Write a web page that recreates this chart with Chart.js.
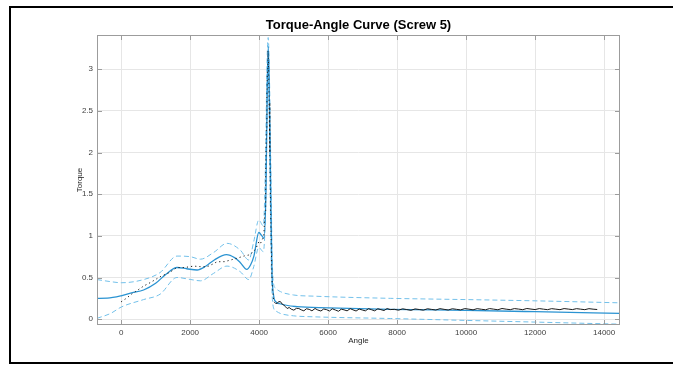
<!DOCTYPE html>
<html>
<head>
<meta charset="utf-8">
<title>Torque-Angle Curve (Screw 5)</title>
<script src="https://cdn.jsdelivr.net/npm/chart.js@4.4.1/dist/chart.umd.min.js"></script>
<style>
  html, body { margin: 0; padding: 0; background: #fff; overflow: hidden; }
  #wrap { position: relative; width: 673px; height: 365px; }
  #myChart { position: absolute; left: 0; top: 0; }
  #frame { position: absolute; left: 9px; top: 6px; width: 700px; height: 354px; border: 2px solid #000; pointer-events: none; }
</style>
</head>
<body>
<div id="wrap">
  <canvas id="myChart" width="673" height="365"></canvas>
  <div id="frame"></div>
</div>
<script>
// measured torque (black)
var rawAngle = [0, 150, 300, 450, 650, 850, 1130, 1400, 1620, 1850, 2100, 2300, 2490, 2650, 2780, 3000, 3165, 3350, 3552, 3700, 3843, 3920, 3990, 4040, 4084, 4133,
  4170, 4190, 4210, 4225, 4240, 4255, 4270, 4290, 4310, 4330, 4350, 4377, 4423,
  4470, 4520, 4570, 4618, 4670, 4715, 4760, 4812, 4870, 4930, 5006, 5080, 5150, 5220, 5296, 5370, 5450, 5530, 5620, 5700, 5790, 5870, 5950,
  6040, 6120, 6210, 6300, 6380, 6460, 6550, 6640, 6720, 6810, 6900, 6990, 7080, 7170, 7260, 7350, 7440, 7530, 7620, 7710, 7800,
  7920, 8040, 8160, 8280, 8400, 8520, 8640, 8760, 8880, 9000, 9120, 9240, 9360, 9480, 9600, 9720, 9840, 9960,
  10080, 10200, 10320, 10440, 10560, 10680, 10800, 10920, 11040, 11160, 11280, 11400, 11520, 11640, 11760, 11880,
  12000, 12120, 12240, 12360, 12480, 12600, 12720, 12840, 12960, 13080, 13200, 13320, 13440, 13560, 13680, 13800];
var rawTorque = [0.208, 0.25, 0.3, 0.34, 0.397, 0.44, 0.509, 0.56, 0.62, 0.62, 0.637, 0.63, 0.629, 0.66, 0.689, 0.69, 0.709, 0.73, 0.757, 0.77, 0.81, 0.86, 0.93, 0.91, 0.95, 0.99,
  1.3, 1.75, 2.3, 2.7, 3.0, 3.22, 3.1, 2.6, 2.0, 1.4, 0.9, 0.43, 0.21,
  0.19, 0.19, 0.21, 0.21, 0.18, 0.17, 0.15, 0.128, 0.14, 0.12, 0.108, 0.13, 0.128, 0.112, 0.1, 0.125, 0.118, 0.1, 0.128, 0.11, 0.098, 0.122, 0.115,
  0.098, 0.125, 0.11, 0.095, 0.12, 0.112, 0.1, 0.126, 0.112, 0.098, 0.122, 0.11, 0.1, 0.126, 0.113, 0.1, 0.125, 0.114, 0.104, 0.127, 0.115,
  0.118, 0.108, 0.124, 0.115, 0.106, 0.123, 0.116, 0.108, 0.125, 0.117, 0.11, 0.126, 0.118, 0.11, 0.125, 0.118, 0.111, 0.127,
  0.12, 0.112, 0.126, 0.119, 0.113, 0.127, 0.12, 0.113, 0.128, 0.12, 0.114, 0.127, 0.121, 0.114, 0.128, 0.121,
  0.115, 0.127, 0.12, 0.114, 0.126, 0.12, 0.114, 0.127, 0.121, 0.115, 0.126, 0.12, 0.114, 0.126, 0.12, 0.116];

// fitted curve (solid blue)
var fitAngle = [-700, -400, 0, 300, 650, 1000, 1300, 1620, 1900, 2200, 2450, 2700, 3050, 3300, 3450, 3640, 3750, 3850, 3990, 4080, 4140,
  4200, 4240, 4265, 4290, 4330, 4370, 4420, 4480, 4600, 5100, 6000, 7800, 10000, 12000, 14460];
var fitTorque = [0.25, 0.252, 0.28, 0.315, 0.35, 0.43, 0.54, 0.62, 0.605, 0.59, 0.635, 0.71, 0.775, 0.735, 0.68, 0.598, 0.65, 0.76, 1.04, 1.0, 0.97,
  1.6, 2.9, 3.27, 2.8, 1.7, 0.6, 0.28, 0.21, 0.185, 0.15, 0.136, 0.118, 0.105, 0.09, 0.07];

// upper bound (dashed)
var upAngle = [-700, -300, 0, 650, 1130, 1620, 2000, 2300, 2680, 3070, 3450, 3700, 3843, 3990, 4120,
  4180, 4230, 4262, 4295, 4340, 4375, 4410, 4480, 4620, 5000, 5600, 7800, 10000, 12000, 14460];
var upTorque = [0.475, 0.45, 0.437, 0.475, 0.56, 0.757, 0.75, 0.72, 0.8, 0.91, 0.83, 0.71, 0.93, 1.19, 1.12,
  1.8, 3.1, 3.38, 3.0, 1.8, 0.8, 0.45, 0.37, 0.33, 0.29, 0.276, 0.25, 0.235, 0.22, 0.196];

// lower bound (dashed)
var loAngle = [-700, -300, 0, 650, 1130, 1620, 2000, 2300, 2680, 3070, 3450, 3700, 3843, 3990, 4120,
  4190, 4240, 4268, 4290, 4320, 4360, 4400, 4480, 4620, 5000, 5600, 7800, 10000, 12000, 14460];
var loTorque = [0.01, 0.07, 0.145, 0.235, 0.3, 0.5, 0.477, 0.46, 0.55, 0.637, 0.57, 0.475, 0.63, 0.86, 0.81,
  1.4, 2.8, 3.15, 2.6, 1.5, 0.5, 0.17, 0.1, 0.068, 0.04, 0.028, 0.008, -0.015, -0.035, -0.06];

var xTicks = [0, 2000, 4000, 6000, 8000, 10000, 12000, 14000];
var yTicks = [0, 0.5, 1, 1.5, 2, 2.5, 3];

function pts(xs, ys) {
  return xs.map(function (x, i) { return { x: x, y: ys[i] }; });
}

var font = '"Liberation Sans", Arial, Helvetica, sans-serif';

// box, inner ticks, title and axis labels
var matlabFrame = {
  id: 'matlabFrame',
  afterDraw: function (chart) {
    var c = chart.ctx, a = chart.chartArea;
    var sx = chart.scales.x, sy = chart.scales.y;
    c.save();
    c.strokeStyle = '#9c9c9c';
    c.lineWidth = 1;
    c.strokeRect(a.left + 0.5, a.top + 0.5, a.right - a.left - 1, a.bottom - a.top - 1);
    c.beginPath();
    xTicks.forEach(function (v) {
      var px = Math.round(sx.getPixelForValue(v)) + 0.5;
      c.moveTo(px, a.bottom); c.lineTo(px, a.bottom - 5);
      c.moveTo(px, a.top); c.lineTo(px, a.top + 5);
    });
    yTicks.forEach(function (v) {
      var py = Math.round(sy.getPixelForValue(v)) + 0.5;
      c.moveTo(a.left, py); c.lineTo(a.left + 5, py);
      c.moveTo(a.right, py); c.lineTo(a.right - 5, py);
    });
    c.stroke();

    c.fillStyle = '#000';
    c.textAlign = 'center';
    c.textBaseline = 'middle';
    c.font = 'bold 13px ' + font;
    c.fillText('Torque-Angle Curve (Screw 5)', (a.left + a.right) / 2, 25);

    c.fillStyle = '#262626';
    c.font = '8px ' + font;
    c.fillText('Angle', (a.left + a.right) / 2, 341);
    c.translate(80, (a.top + a.bottom) / 2);
    c.rotate(-Math.PI / 2);
    c.fillText('Torque', 0, 0);
    c.restore();
  }
};

var ctx = document.getElementById('myChart').getContext('2d');

new Chart(ctx, {
  type: 'line',
  data: {
    datasets: [{
        label: 'Measured',
        data: pts(rawAngle, rawTorque),
        borderColor: '#1a1a1a',
        borderWidth: 1,
        pointRadius: 0,
        tension: 0,
        order: 0,
        segment: {
          borderDash: function (s) { return s.p0.parsed.x < 4440 ? [1.2, 3] : undefined; }
        }
      },
      {
        label: 'Fit',
        data: pts(fitAngle, fitTorque),
        borderColor: '#2a93d2',
        borderWidth: 1.3,
        pointRadius: 0,
        cubicInterpolationMode: 'monotone',
        order: 1
      },
      {
        label: 'Upper',
        data: pts(upAngle, upTorque),
        borderColor: '#72c0ea',
        borderWidth: 1,
        borderDash: [5, 3],
        pointRadius: 0,
        cubicInterpolationMode: 'monotone',
        order: 2
      },
      {
        label: 'Lower',
        data: pts(loAngle, loTorque),
        borderColor: '#72c0ea',
        borderWidth: 1,
        borderDash: [5, 3],
        pointRadius: 0,
        cubicInterpolationMode: 'monotone',
        order: 2
      }
    ]
  },
  options: {
    responsive: false,
    animation: false,
    devicePixelRatio: 1,
    layout: {
      padding: { left: 0, top: 35, right: 53, bottom: 0 }
    },
    plugins: {
      legend: { display: false },
      title: { display: false },
      tooltip: { enabled: false }
    },
    scales: {
      x: {
        type: 'linear',
        min: -700,
        max: 14460,
        afterFit: function (s) { s.height = 40; },
        afterBuildTicks: function (s) {
          s.ticks = xTicks.map(function (v) { return { value: v }; });
        },
        border: { display: false },
        grid: {
          color: '#e6e6e6',
          drawTicks: false
        },
        ticks: {
          padding: 3,
          maxRotation: 0,
          autoSkip: false,
          color: '#404040',
          font: { size: 8, family: font },
          callback: function (v) { return String(v); }
        }
      },
      y: {
        type: 'linear',
        min: -0.07,
        max: 3.41,
        afterFit: function (s) { s.width = 97; },
        afterBuildTicks: function (s) {
          s.ticks = yTicks.map(function (v) { return { value: v }; });
        },
        border: { display: false },
        grid: {
          color: '#e6e6e6',
          drawTicks: false
        },
        ticks: {
          padding: 4,
          autoSkip: false,
          color: '#404040',
          font: { size: 8, family: font },
          callback: function (v) { return String(v); }
        }
      }
    }
  },
  plugins: [matlabFrame]
});
</script>
</body>
</html>
